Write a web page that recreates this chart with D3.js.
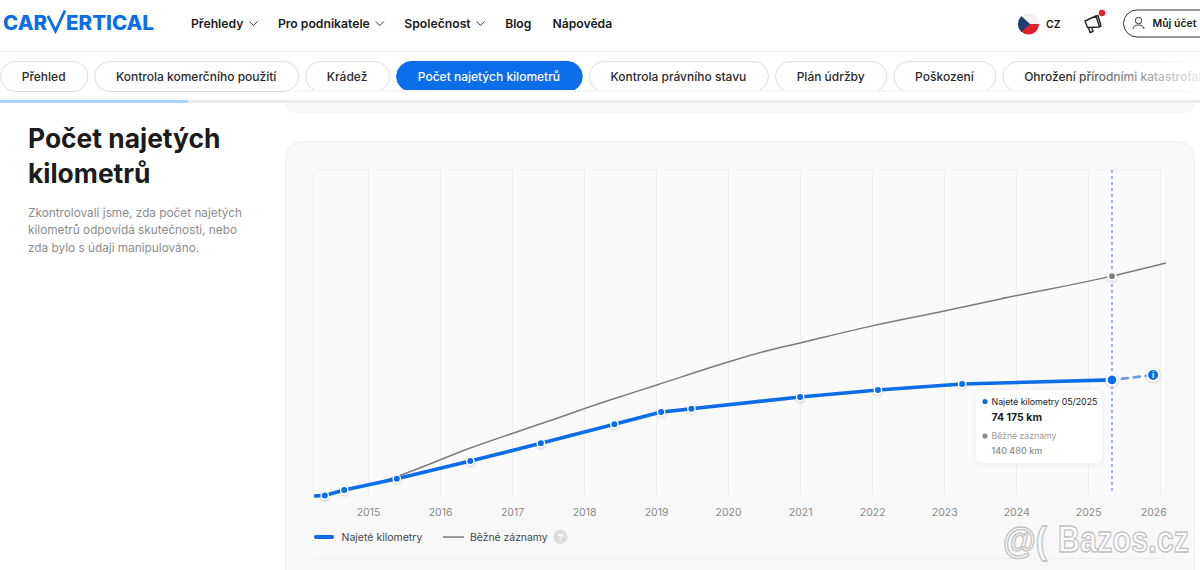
<!DOCTYPE html>
<html lang="cs">
<head>
<meta charset="utf-8">
<title>Počet najetých kilometrů</title>
<script src="https://cdn.jsdelivr.net/npm/d3@7"></script>
<style>
  html, body { margin: 0; padding: 0; background: #fff; overflow: hidden; }
  svg { display: block; font-family: Inter, "Noto Sans", sans-serif; }
</style>
</head>
<body>
<div id="svgcontainer"></div>
<script>
// chart data
var odometerDates = [2014.25, 2014.40, 2014.67, 2015.40, 2016.42, 2017.40, 2018.42, 2019.07, 2019.49, 2021.00, 2022.08, 2023.25, 2025.33];
var odometerKm = [0, 300, 3800, 11000, 22300, 33700, 45800, 53600, 55700, 63300, 67700, 71600, 74175];
var hiddenMarkers = [0]; // the first vertex of the line has no dot
var projectedDates = [2025.33, 2025.90];
var projectedKm = [74175, 77300];
var typicalDates = [2014.67, 2015.17, 2015.42, 2016.42, 2017.43, 2018.36, 2019.01, 2020.00, 2020.54, 2021.00, 2022.00, 2023.00, 2023.78, 2025.33, 2026.08];
var typicalKm = [3800, 9100, 12800, 30700, 46600, 61300, 70900, 85600, 92800, 97800, 108700, 118200, 125900, 140480, 148900];
var yearTicks = [2015, 2016, 2017, 2018, 2019, 2020, 2021, 2022, 2023, 2024, 2025, 2026];

var navItems = ["Přehledy", "Pro podnikatele", "Společnost", "Blog", "Nápověda"];
var navWithMenu = ["Přehledy", "Pro podnikatele", "Společnost"];
var tabs = ["Přehled", "Kontrola komerčního použití", "Krádež", "Počet najetých kilometrů", "Kontrola právního stavu", "Plán údržby", "Poškození", "Ohrožení přírodními katastrofami"];
var activeTab = "Počet najetých kilometrů";
var descLines = ["Zkontrolovali jsme, zda počet najetých", "kilometrů odpovídá skutečnosti, nebo", "zda bylo s údaji manipulováno."];
var titleLines = ["Počet najetých", "kilometrů"];

var blue = "#0b6de8";
var grey = "#7b7b7b";
var width = 1200;
var height = 570;

var svg = d3.select("#svgcontainer")
  .append("svg")
  .attr("width", width)
  .attr("height", height);

var defs = svg.append("defs");
var shadow = defs.append("filter").attr("id", "shadow")
  .attr("x", "-60%").attr("y", "-60%").attr("width", "220%").attr("height", "220%");
shadow.append("feDropShadow").attr("dx", 0).attr("dy", 1).attr("stdDeviation", 1.6)
  .attr("flood-color", "#000").attr("flood-opacity", 0.22);
var softShadow = defs.append("filter").attr("id", "softShadow")
  .attr("x", "-20%").attr("y", "-20%").attr("width", "140%").attr("height", "140%");
softShadow.append("feDropShadow").attr("dx", 0).attr("dy", 1).attr("stdDeviation", 3)
  .attr("flood-color", "#000").attr("flood-opacity", 0.05);
var fade = defs.append("linearGradient").attr("id", "fade");
fade.append("stop").attr("offset", 0).attr("stop-color", "#fff").attr("stop-opacity", 0);
fade.append("stop").attr("offset", 1).attr("stop-color", "#fff").attr("stop-opacity", 0.9);

// ---- header ----
var header = svg.append("g");

header.append("text").attr("x", 3).attr("y", 30)
  .attr("font-size", 20).attr("font-weight", 800).attr("fill", blue)
  .attr("textLength", 44).attr("lengthAdjust", "spacingAndGlyphs").text("CAR");
header.append("text").attr("x", 66).attr("y", 30)
  .attr("font-size", 20).attr("font-weight", 800).attr("fill", blue)
  .attr("textLength", 88).attr("lengthAdjust", "spacingAndGlyphs").text("ERTICAL");
header.append("path").attr("d", "M48 16 L55.5 31 L65 10.5")
  .attr("fill", "none").attr("stroke", blue).attr("stroke-width", 2.8);

var navX = 191;
navItems.forEach(function(name) {
  var t = header.append("text").attr("x", navX).attr("y", 28)
    .attr("font-size", 12.2).attr("font-weight", 600).attr("fill", "#1b1b1b").text(name);
  var w = t.node().getComputedTextLength();
  if (navWithMenu.indexOf(name) >= 0) {
    var cx = navX + w + 10;
    header.append("path").attr("d", "M" + (cx - 4) + " 21.5 L" + cx + " 25.5 L" + (cx + 4) + " 21.5")
      .attr("fill", "none").attr("stroke", "#333").attr("stroke-width", 1);
    navX = cx + 24.5;
  } else {
    navX = navX + w + 21;
  }
});

// flag
var flagClip = defs.append("clipPath").attr("id", "flagClip");
flagClip.append("circle").attr("cx", 1028.5).attr("cy", 24).attr("r", 10.5);
var flag = header.append("g").attr("clip-path", "url(#flagClip)");
flag.append("rect").attr("x", 1018).attr("y", 13).attr("width", 21).attr("height", 11).attr("fill", "#f1f1f1");
flag.append("rect").attr("x", 1018).attr("y", 24).attr("width", 21).attr("height", 11).attr("fill", "#e2202c");
flag.append("path").attr("d", "M1018 13 L1030 24 L1018 35 Z").attr("fill", "#1f3a78");
header.append("text").attr("x", 1046).attr("y", 27.5)
  .attr("font-size", 10.5).attr("font-weight", 600).attr("fill", "#1b1b1b").text("CZ");

// megaphone
header.append("path")
  .attr("d", "M1085 21 L1096 16 L1099.5 27 L1087.5 27.5 Z M1088.5 27.5 L1090 32.5 L1093 31.5 L1092 27.5 M1096 16 L1098 15.5 L1101 26 L1099.5 27")
  .attr("fill", "none").attr("stroke", "#222").attr("stroke-width", 1.4).attr("stroke-linejoin", "round");
header.append("circle").attr("cx", 1102).attr("cy", 13).attr("r", 3.2).attr("fill", "#e2202c");

// account button
header.append("rect").attr("x", 1123.5).attr("y", 10).attr("width", 110).attr("height", 27).attr("rx", 13.5)
  .attr("fill", "#fff").attr("stroke", "#333").attr("stroke-width", 1);
header.append("circle").attr("cx", 1138.5).attr("cy", 20.5).attr("r", 3.2)
  .attr("fill", "none").attr("stroke", "#333").attr("stroke-width", 1);
header.append("path").attr("d", "M1133 29 Q1133.5 25 1138.5 25 Q1143.5 25 1144 29")
  .attr("fill", "none").attr("stroke", "#333").attr("stroke-width", 1);
header.append("text").attr("x", 1152.5).attr("y", 27)
  .attr("font-size", 10.5).attr("font-weight", 600).attr("fill", "#1b1b1b").text("Můj účet");

header.append("line").attr("x1", 0).attr("x2", width).attr("y1", 51.5).attr("y2", 51.5)
  .attr("stroke", "#efefef");

// ---- tab strip ----
var strip = svg.append("g");
var tabX = 0;
tabs.forEach(function(name) {
  var active = name == activeTab;
  var g = strip.append("g");
  var t = g.append("text").attr("y", 80.5)
    .attr("font-size", 12).attr("font-weight", 500)
    .attr("fill", active ? "#fff" : "#2a2a2a").text(name);
  var w = t.node().getComputedTextLength();
  t.attr("x", tabX + 21.7);
  g.insert("rect", "text").attr("x", tabX + 0.5).attr("y", 61.5).attr("width", w + 43.4).attr("height", 30).attr("rx", 15)
    .attr("fill", active ? blue : "#fff").attr("stroke", active ? blue : "#dedede");
  tabX = tabX + w + 43.4 + 7;
});
strip.append("rect").attr("x", 1060).attr("y", 60).attr("width", 140).attr("height", 33).attr("fill", "url(#fade)");

svg.append("rect").attr("x", 285).attr("y", 90).attr("width", 910).attr("height", 23).attr("rx", 12).attr("fill", "#f7f7f7");
svg.append("rect").attr("x", 0).attr("y", 92).attr("width", width).attr("height", 8).attr("fill", "#fff");
svg.append("rect").attr("x", 0).attr("y", 100).attr("width", width).attr("height", 3).attr("fill", "#ececec");
svg.append("rect").attr("x", 0).attr("y", 100).attr("width", 188).attr("height", 3).attr("fill", "#a6d6fb");

// ---- left column ----
titleLines.forEach(function(line, i) {
  svg.append("text").attr("x", 28).attr("y", 148 + i * 35)
    .attr("font-size", 26.4).attr("font-weight", 700).attr("fill", "#1b1b1b").text(line);
});
descLines.forEach(function(line, i) {
  svg.append("text").attr("x", 28).attr("y", 216.5 + i * 17.5)
    .attr("font-size", 11.8).attr("fill", "#8c8c8c").text(line);
});

// ---- chart card ----
svg.append("rect").attr("x", 285.5).attr("y", 141.5).attr("width", 909).attr("height", 460).attr("rx", 16)
  .attr("fill", "#f8f8f8").attr("stroke", "#f0f0f0");
svg.append("rect").attr("x", 314).attr("y", 170).attr("width", 852).attr("height", 326).attr("rx", 6)
  .attr("fill", "#fafafa").attr("stroke", "#f3f3f3");
svg.append("line").attr("x1", 314).attr("x2", 1166).attr("y1", 558.5).attr("y2", 558.5).attr("stroke", "#eeeeee");

var x = d3.scaleLinear().domain([2014.25, 2026.08]).range([314, 1166]);
var y = d3.scaleLinear().domain([0, 208300]).range([496, 170]);

var axis = svg.append("g")
  .attr("transform", "translate(0,496)")
  .call(d3.axisBottom(x).tickValues(yearTicks).tickFormat(d3.format("d")).tickSize(-326).tickPadding(13));
axis.select(".domain").remove();
axis.selectAll(".tick line").attr("stroke", "#eeeeee");
axis.selectAll(".tick text")
  .attr("font-family", "Inter, sans-serif").attr("font-size", 10.5).attr("fill", "#8a8a8a")
  .attr("dx", function(d) { return d == 2026 ? -7 : 0; });

var line = d3.line().x(function(d) { return x(d[0]); }).y(function(d) { return y(d[1]); });
var odometer = d3.zip(odometerDates, odometerKm);
var projected = d3.zip(projectedDates, projectedKm);
var typical = d3.zip(typicalDates, typicalKm);
var current = odometer[odometer.length - 1];
var currentTypical = [2025.33, 140480];

// crosshair
svg.append("line")
  .attr("x1", x(current[0])).attr("x2", x(current[0]))
  .attr("y1", y.range()[1]).attr("y2", y.range()[0] - 3)
  .attr("stroke", "#7f9fee").attr("stroke-width", 1.5).attr("stroke-dasharray", "3 3");

svg.append("path").datum(typical)
  .attr("d", line.curve(d3.curveMonotoneX))
  .attr("fill", "none").attr("stroke", grey).attr("stroke-width", 1.5);

line.curve(d3.curveLinear);

svg.append("path").datum(odometer)
  .attr("d", line)
  .attr("fill", "none").attr("stroke", blue).attr("stroke-width", 3.6).attr("stroke-linejoin", "round");

svg.append("path").datum(projected)
  .attr("d", line)
  .attr("fill", "none").attr("stroke", "#6d9ae6").attr("stroke-width", 2.8)
  .attr("stroke-dasharray", "6 6").attr("stroke-dashoffset", -10).attr("stroke-linecap", "round");

var dots = odometer.slice(0, -1).filter(function(d, i) { return hiddenMarkers.indexOf(i) < 0; });
svg.selectAll(".pt").data(dots).enter().append("circle").attr("class", "pt")
  .attr("cx", function(d) { return x(d[0]); }).attr("cy", function(d) { return y(d[1]); })
  .attr("r", 3.7).attr("fill", blue).attr("stroke", "#fff").attr("stroke-width", 1.4)
  .attr("filter", "url(#shadow)");

svg.append("circle").datum(currentTypical)
  .attr("cx", function(d) { return x(d[0]); }).attr("cy", function(d) { return y(d[1]); })
  .attr("r", 3.8).attr("fill", grey).attr("stroke", "#fff").attr("stroke-width", 1.8).attr("filter", "url(#shadow)");

svg.append("circle").datum(current)
  .attr("cx", function(d) { return x(d[0]); }).attr("cy", function(d) { return y(d[1]); })
  .attr("r", 5.4).attr("fill", blue).attr("stroke", "#fff").attr("stroke-width", 2.2).attr("filter", "url(#shadow)");

var info = projected[1];
svg.append("circle")
  .attr("cx", x(info[0])).attr("cy", y(info[1]))
  .attr("r", 5.8).attr("fill", blue).attr("stroke", "#fff").attr("stroke-width", 1.6).attr("filter", "url(#shadow)");
svg.append("text").attr("x", x(info[0])).attr("y", y(info[1]) + 3)
  .attr("text-anchor", "middle").attr("font-size", 8).attr("font-weight", 700).attr("fill", "#fff").text("i");

// ---- tooltip ----
var cs = d3.formatLocale({ decimal: ",", thousands: " ", grouping: [3], currency: ["", " Kč"] });
var km = cs.format(",d");
var tip = svg.append("g");
tip.append("rect").attr("x", 975.5).attr("y", 389.5).attr("width", 127).attr("height", 74).attr("rx", 6)
  .attr("fill", "#fff").attr("stroke", "#f3f3f3").attr("filter", "url(#softShadow)");
tip.append("circle").attr("cx", 985).attr("cy", 401.5).attr("r", 2.6).attr("fill", blue);
tip.append("text").attr("x", 991.5).attr("y", 405).attr("font-size", 8.8).attr("fill", "#222").text("Najeté kilometry 05/2025");
tip.append("text").attr("x", 991.5).attr("y", 420.5).attr("font-size", 10.5).attr("font-weight", 700).attr("fill", "#1b1b1b").text(km(current[1]) + " km");
tip.append("circle").attr("cx", 985).attr("cy", 436).attr("r", 2.6).attr("fill", "#8a8a8a");
tip.append("text").attr("x", 991.5).attr("y", 439).attr("font-size", 8.7).attr("fill", "#9a9a9a").text("Běžné záznamy");
tip.append("text").attr("x", 991.5).attr("y", 453.5).attr("font-size", 9).attr("font-weight", 500).attr("fill", "#8a8a8a").text(km(currentTypical[1]) + " km");

// ---- legend ----
var legend = svg.append("g");
legend.append("line").attr("x1", 316).attr("x2", 332).attr("y1", 537).attr("y2", 537)
  .attr("stroke", blue).attr("stroke-width", 4).attr("stroke-linecap", "round");
legend.append("text").attr("x", 341.5).attr("y", 541).attr("font-size", 10.5).attr("fill", "#444").text("Najeté kilometry");
legend.append("line").attr("x1", 443).attr("x2", 464).attr("y1", 537).attr("y2", 537)
  .attr("stroke", grey).attr("stroke-width", 1.5);
legend.append("text").attr("x", 470).attr("y", 541).attr("font-size", 10.4).attr("fill", "#444").text("Běžné záznamy");
legend.append("circle").attr("cx", 560.5).attr("cy", 537).attr("r", 7).attr("fill", "#dcdcdc");
legend.append("text").attr("x", 560.5).attr("y", 540.5).attr("text-anchor", "middle")
  .attr("font-size", 9.5).attr("font-weight", 700).attr("fill", "#fff").text("?");

// ---- watermark ----
var mark = svg.append("g")
  .attr("font-family", "'Liberation Sans', sans-serif").attr("font-weight", 700)
  .attr("fill", "#fbfbfb").attr("stroke", "#c2c2c2").attr("stroke-width", 1.3);
mark.append("text").attr("x", 1003).attr("y", 553).attr("font-size", 36)
  .attr("textLength", 44).attr("lengthAdjust", "spacingAndGlyphs").text("@(");
mark.append("text").attr("x", 1058).attr("y", 552).attr("font-size", 36)
  .attr("textLength", 131).attr("lengthAdjust", "spacingAndGlyphs").text("Bazos.cz");
</script>
</body>
</html>
